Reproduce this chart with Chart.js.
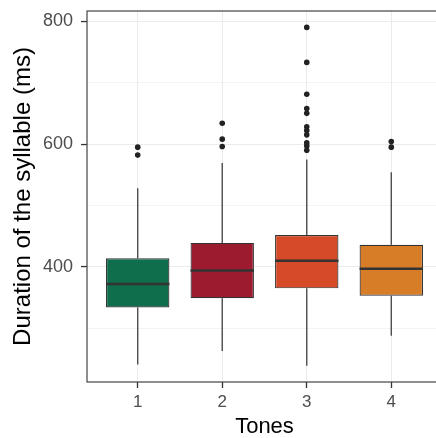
<!DOCTYPE html>
<html>
<head>
<meta charset="utf-8">
<script src="https://cdn.jsdelivr.net/npm/chart.js@4/dist/chart.umd.min.js"></script>
<style>
html,body{margin:0;padding:0;overflow:hidden;background:#fff;}
#wrap{width:446px;height:438px;}
</style>
</head>
<body>
<div id="wrap"><canvas id="c" width="446" height="438"></canvas></div>
<script>
// ---- data ----
const tones = ['1', '2', '3', '4'];
const q1 = [334, 349, 365, 353];
const median = [372, 394, 410, 397];
const q3 = [414, 439, 452, 436];
const whiskerLow = [241, 263, 239, 288];
const whiskerHigh = [528, 569, 575, 554];
const outliers = [
  [582, 595],
  [596, 608, 634],
  [590, 597, 602, 615, 622, 628, 650, 658, 681, 733, 790],
  [595, 604]
];
const yMajorTicks = [400, 600, 800];
const yGridTicks = [300, 400, 500, 600, 700, 800];
const boxColors = ['#0F6E4C', '#9C1B2F', '#D64A27', '#D77C27'];

const FONT = "'Liberation Sans', Arial, Helvetica, sans-serif";
const xs = tones.map(Number);

const boxData = xs.map((x, i) => ({x: x, y: [q1[i], q3[i]]}));
const outlierData = [];
outliers.forEach((arr, i) => arr.forEach(v => outlierData.push({x: xs[i], y: v})));

const boxPlugin = {
  id: 'boxParts',
  beforeDatasetsDraw(chart) {
    const ctx = chart.ctx;
    const xScale = chart.scales.x, yScale = chart.scales.y;
    ctx.save();
    ctx.strokeStyle = '#4D4D4D';
    ctx.lineWidth = 1.4;
    xs.forEach((x, i) => {
      const px = xScale.getPixelForValue(x);
      ctx.beginPath();
      ctx.moveTo(px, yScale.getPixelForValue(whiskerHigh[i]));
      ctx.lineTo(px, yScale.getPixelForValue(q3[i]));
      ctx.moveTo(px, yScale.getPixelForValue(q1[i]));
      ctx.lineTo(px, yScale.getPixelForValue(whiskerLow[i]));
      ctx.stroke();
    });
    ctx.restore();
  },
  afterDatasetsDraw(chart) {
    const ctx = chart.ctx;
    const yScale = chart.scales.y;
    const meta = chart.getDatasetMeta(0);
    ctx.save();
    ctx.strokeStyle = '#333333';
    ctx.lineWidth = 2.4;
    meta.data.forEach((el, i) => {
      const py = yScale.getPixelForValue(median[i]);
      ctx.beginPath();
      ctx.moveTo(el.x - el.width / 2, py);
      ctx.lineTo(el.x + el.width / 2, py);
      ctx.stroke();
    });
    const a = chart.chartArea;
    ctx.strokeStyle = '#444444';
    ctx.lineWidth = 1.2;
    ctx.strokeRect(a.left, a.top, a.right - a.left, a.bottom - a.top);
    ctx.restore();
  }
};

new Chart(document.getElementById('c'), {
  type: 'bar',
  data: {
    datasets: [
      {
        type: 'bar',
        data: boxData,
        backgroundColor: boxColors,
        borderColor: '#333333',
        borderWidth: 1.2,
        borderSkipped: false,
        barPercentage: 0.75,
        categoryPercentage: 1,
        order: 2
      },
      {
        type: 'scatter',
        data: outlierData,
        showLine: false,
        pointRadius: 2.8,
        pointBackgroundColor: '#222222',
        pointBorderWidth: 0,
        order: 1
      }
    ]
  },
  options: {
    responsive: false,
    animation: false,
    devicePixelRatio: 1,
    layout: {padding: {top: 11, right: 1, left: 0, bottom: 0}},
    plugins: {legend: {display: false}, tooltip: {enabled: false}},
    scales: {
      x: {
        type: 'linear',
        min: 0.4,
        max: 4.6,
        offset: false,
        afterBuildTicks(scale) { scale.ticks = xs.map(v => ({value: v})); },
        afterFit(scale) { scale.height = 56; scale.paddingLeft = 0; scale.paddingRight = 0; },
        ticks: {
          callback: (v) => tones[xs.indexOf(v)] ?? '',
          color: '#4D4D4D',
          font: {family: FONT, size: 17},
          padding: 4,
          maxRotation: 0
        },
        grid: {
          offset: false,
          color: '#EBEBEB',
          lineWidth: 1,
          tickLength: 6,
          tickColor: '#333333',
          tickWidth: 1.3
        },
        border: {display: false},
        title: {
          display: true,
          text: 'Tones',
          color: '#000000',
          font: {family: FONT, size: 22, lineHeight: 1},
          padding: {top: 0, bottom: 0}
        }
      },
      y: {
        type: 'linear',
        min: 212.5,
        max: 816.7,
        afterBuildTicks(scale) { scale.ticks = yGridTicks.map(v => ({value: v})); },
        afterFit(scale) { scale.width = 87; scale.paddingTop = 0; scale.paddingBottom = 0; },
        ticks: {
          callback: (v) => yMajorTicks.includes(v) ? String(v) : '',
          color: '#4D4D4D',
          font: {family: FONT, size: 18},
          padding: 8
        },
        grid: {
          color: '#EBEBEB',
          lineWidth: (c) => yMajorTicks.includes(c.tick && c.tick.value) ? 1.1 : 0.6,
          tickLength: 6,
          tickColor: (c) => yMajorTicks.includes(c.tick && c.tick.value) ? '#333333' : 'rgba(0,0,0,0)',
          tickWidth: 1.3
        },
        border: {display: false},
        title: {
          display: true,
          text: 'Duration of the syllable (ms)',
          color: '#000000',
          font: {family: FONT, size: 24, lineHeight: 1.2},
          padding: {top: 9, bottom: 0}
        }
      }
    }
  },
  plugins: [boxPlugin]
});
</script>
</body>
</html>
